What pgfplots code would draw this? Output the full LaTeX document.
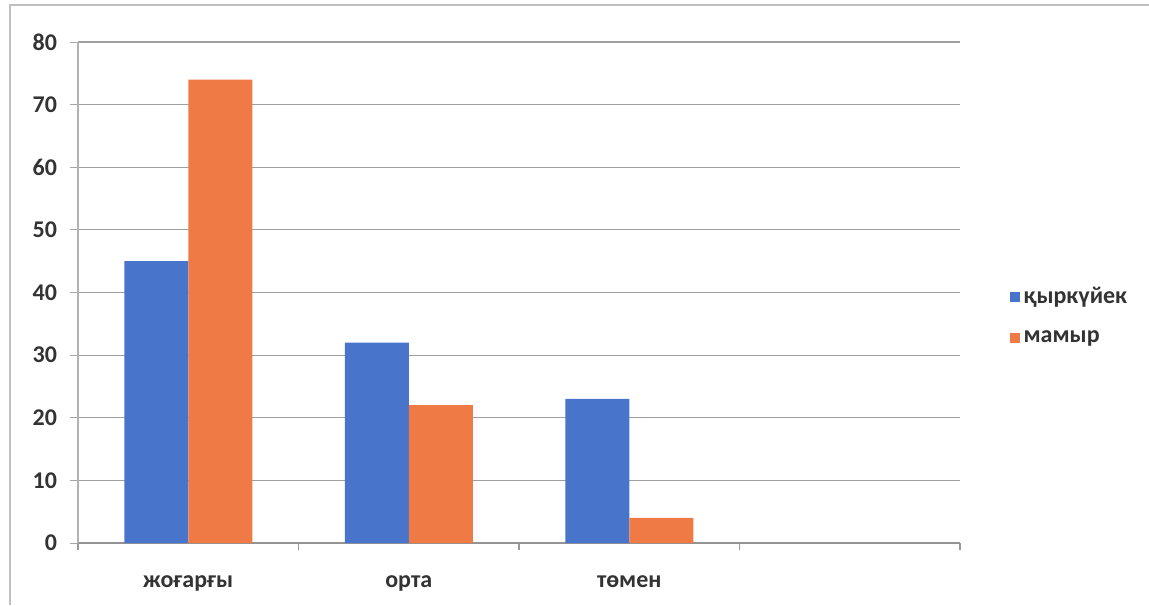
\documentclass[border=0pt]{standalone}
\usepackage{pgfplots}
\pgfplotsset{compat=1.18}
\usepackage{fontspec}
\setmainfont{Carlito}
\definecolor{barblue}{HTML}{4874CC}
\definecolor{barorange}{HTML}{EF7A45}
\definecolor{txt}{HTML}{333333}
\begin{document}
\begin{tikzpicture}
\begin{axis}[
  at={(0,0)}, anchor=south west,
  scale only axis,
  width=441pt, height=250.5pt,
  ybar=0pt, bar width=32pt,
  xmin=-0.5, xmax=3.5,
  ymin=0, ymax=80,
  ytick={0,10,...,80},
  xtick={0,1,2},
  xticklabels={жоғарғы, орта, төмен},
  minor xtick={-0.5,0.5,1.5,2.5,3.5},
  major x tick style={draw=none},
  minor x tick style={draw=gray!80, line width=0.6pt},
  minor tick length=3.5pt,
  major tick length=4pt,
  tick align=outside,
  ytick style={draw=gray!70, line width=0.5pt},
  axis x line*=bottom,
  axis y line*=left,
  x axis line style={draw=gray!85, line width=0.7pt},
  y axis line style={draw=gray!60, line width=0.6pt},
  ymajorgrids,
  grid style={draw=gray!75, line width=0.6pt},
  font=\fontsize{12}{14}\selectfont\bfseries,
  tick label style={text=txt},
  /pgf/number format/assume math mode=true,
  yticklabel style={xshift=-3pt},
  xticklabel style={yshift=-9pt},
  legend style={at={(1.049,0.453)}, anchor=west, draw=none, fill=none,
    font=\fontsize{12}{14}\selectfont\bfseries, text=txt, row sep=8pt,
    /tikz/every even column/.append style={column sep=1pt}},
  legend cell align=left,
  legend image code/.code={\fill[#1] (0pt,-2.5pt) rectangle (5pt,2.5pt);},
  clip=false,
]
\addplot[fill=barblue, draw=none] coordinates {(0,45) (1,32) (2,23)};
\addplot[fill=barorange, draw=none] coordinates {(0,74) (1,22) (2,4)};
\legend{қыркүйек, мамыр}
\end{axis}
\draw[gray!50, line width=0.6pt] (-34pt,-31pt) -- (-34pt,269pt) -- (535.5pt,269pt);
\pgfresetboundingbox
\path[use as bounding box] (-39pt,-31pt) rectangle (535.5pt,271.5pt);
\end{tikzpicture}
\end{document}
